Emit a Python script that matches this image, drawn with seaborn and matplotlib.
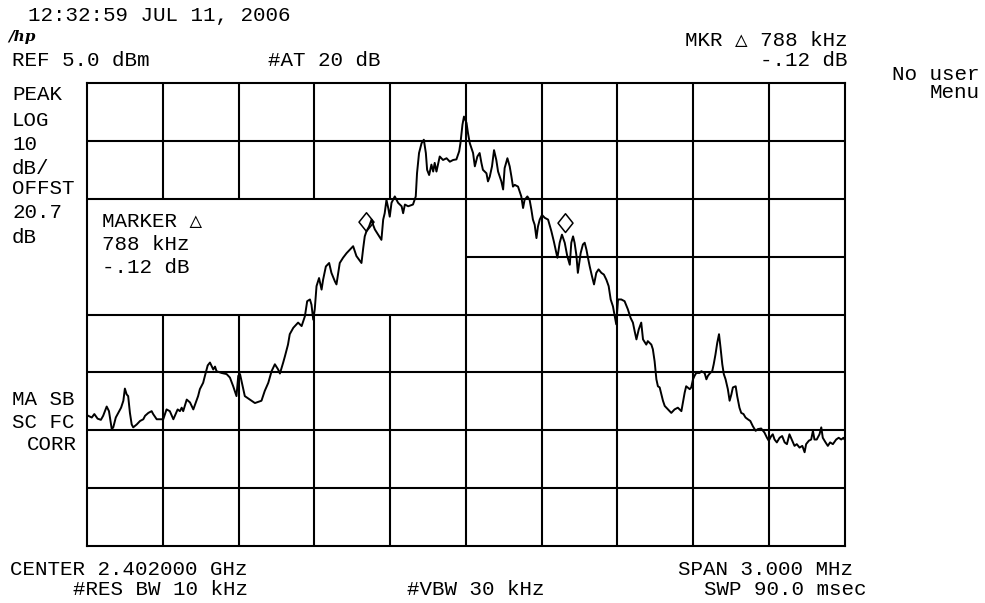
import matplotlib
matplotlib.use("Agg")
import matplotlib.pyplot as plt
import numpy as np
import pandas as pd
import seaborn as sns
from matplotlib.path import Path

# Trace: frequency offset from center (kHz) and level (dBm)
freq_khz = [
    -1500, -1481, -1471, -1458, -1445, -1436, -1422, -1413, -1402, -1396,
    -1386, -1376, -1365, -1356, -1350, -1343, -1337, -1330, -1323, -1317,
    -1303, -1290, -1277, -1270, -1257, -1244, -1238, -1224, -1211, -1198,
    -1185, -1172, -1158, -1141, -1132, -1125, -1119, -1105, -1092, -1079,
    -1060, -1053, -1040, -1033, -1022, -1013, -1000, -993, -987, -967,
    -947, -934, -921, -908, -901, -894, -881, -875, -848, -835,
    -809, -796, -782, -769, -756, -743, -736, -723, -716, -704,
    -697, -683, -664, -650, -637, -628, -617, -611, -604, -598,
    -591, -581, -571, -565, -554, -541, -532, -518, -512, -499,
    -486, -472, -459, -446, -433, -413, -406, -400, -393, -383,
    -373, -367, -360, -347, -334, -327, -321, -314, -307, -301,
    -294, -281, -268, -254, -248, -241, -228, -209, -198, -193,
    -185, -175, -166, -158, -153, -145, -136, -129, -123, -116,
    -103, -90, -76, -63, -50, -37, -26, -21, -13, -7,
    3, 9, 16, 29, 36, 46, 55, 62, 68, 82,
    88, 95, 104, 112, 121, 128, 135, 141, 148, 154,
    165, 174, 181, 187, 194, 207, 220, 227, 233, 244,
    253, 260, 266, 273, 280, 286, 293, 302, 313, 326,
    339, 349, 356, 363, 372, 381, 392, 402, 412, 418,
    425, 431, 438, 444, 455, 464, 471, 478, 484, 491,
    500, 508, 517, 526, 537, 547, 557, 566, 574, 583,
    590, 596, 603, 616, 629, 642, 653, 662, 669, 676,
    685, 695, 702, 715, 721, 735, 741, 748, 755, 761,
    768, 775, 781, 788, 801, 814, 827, 840, 854, 860,
    867, 873, 887, 893, 900, 906, 913, 926, 933, 946,
    953, 959, 968, 976, 982, 989, 996, 1003, 1009, 1016,
    1022, 1029, 1038, 1045, 1052, 1058, 1069, 1075, 1084, 1091,
    1100, 1108, 1117, 1127, 1137, 1148, 1157, 1170, 1183, 1193,
    1200, 1210, 1216, 1223, 1232, 1243, 1253, 1263, 1272, 1282,
    1293, 1302, 1311, 1322, 1333, 1342, 1348, 1359, 1368, 1375,
    1381, 1390, 1401, 1408, 1414, 1425, 1434, 1443, 1454, 1467,
    1477, 1487, 1496, 1500,
]
level_dbm = [
    -52.4, -52.8, -52.2, -53.0, -53.2, -52.5, -50.9, -51.7, -54.8, -54.5,
    -52.8, -52.0, -51.1, -49.9, -47.8, -48.8, -49.1, -52.0, -54.0, -54.5,
    -54.0, -53.4, -53.1, -52.5, -52.0, -51.7, -52.2, -53.1, -53.1, -53.1,
    -51.4, -51.7, -53.1, -51.4, -51.7, -51.1, -51.7, -49.7, -50.2, -51.4,
    -49.1, -47.9, -46.8, -45.6, -43.8, -43.3, -44.5, -44.0, -44.8, -45.1,
    -45.3, -45.9, -47.4, -49.1, -45.6, -45.3, -47.9, -49.1, -49.9, -50.3,
    -49.9, -48.2, -46.8, -44.8, -43.6, -44.5, -45.2, -43.3, -42.2, -40.2,
    -38.4, -37.3, -36.4, -37.0, -35.3, -32.7, -32.4, -33.3, -35.9, -34.1,
    -30.1, -28.7, -30.7, -29.0, -26.7, -26.1, -27.8, -29.3, -29.8, -26.1,
    -25.2, -24.4, -23.8, -23.2, -24.9, -26.1, -23.5, -21.5, -20.6, -19.8,
    -18.6, -19.5, -20.3, -21.2, -22.1, -18.6, -17.5, -15.2, -16.6, -18.1,
    -15.7, -14.6, -15.7, -16.3, -17.5, -16.0, -16.3, -16.0, -14.6, -10.6,
    -7.1, -5.4, -4.8, -7.1, -10.0, -10.9, -9.1, -10.3, -8.8, -10.3,
    -7.7, -8.3, -8.0, -8.6, -8.3, -8.2, -6.8, -5.4, -2.2, -0.8,
    -1.9, -3.7, -5.4, -7.1, -9.4, -7.7, -7.1, -8.8, -10.0, -10.6,
    -12.0, -11.2, -9.4, -6.6, -8.3, -10.3, -11.2, -12.0, -13.4, -9.7,
    -8.0, -9.4, -11.2, -12.9, -12.6, -12.9, -14.6, -16.6, -15.2, -14.6,
    -15.2, -16.9, -18.6, -19.5, -21.8, -19.8, -18.6, -17.8, -18.3, -18.6,
    -20.6, -22.4, -23.8, -25.2, -22.6, -21.2, -22.6, -24.9, -26.4, -22.6,
    -21.5, -22.6, -24.7, -27.8, -24.4, -22.9, -22.6, -23.8, -25.2, -26.7,
    -28.4, -29.8, -27.8, -27.2, -27.8, -28.1, -29.0, -30.1, -32.4, -33.6,
    -35.3, -36.7, -32.4, -32.4, -32.7, -34.1, -35.6, -36.4, -37.9, -39.3,
    -37.6, -36.4, -39.3, -40.2, -39.6, -40.2, -41.0, -43.1, -46.2, -47.4,
    -47.6, -48.8, -49.9, -50.8, -51.4, -52.0, -51.4, -51.1, -51.7, -50.2,
    -48.5, -47.4, -47.9, -47.6, -46.2, -45.6, -45.1, -45.1, -44.8, -45.1,
    -46.2, -45.6, -45.1, -44.8, -43.6, -41.9, -39.9, -38.4, -40.7, -43.6,
    -45.3, -46.2, -47.9, -49.9, -48.8, -47.6, -47.4, -49.1, -51.1, -52.0,
    -52.2, -52.8, -53.1, -53.4, -54.3, -55.1, -54.8, -54.7, -55.4, -56.3,
    -56.8, -56.0, -55.7, -56.6, -57.1, -56.3, -56.0, -57.1, -57.4, -55.7,
    -56.8, -57.7, -57.4, -58.0, -57.7, -58.8, -57.4, -56.8, -56.6, -55.1,
    -56.6, -56.6, -55.7, -54.5, -56.3, -57.1, -57.7, -57.1, -57.4, -56.6,
    -56.3, -56.6, -56.3, -56.6,
]

# Display settings
ref_level_dbm = 5.0
db_per_div = 10
n_vdiv = 8
span_khz = 3000
n_hdiv = 10

# Delta marker pair
marker_ref_khz = -396
marker_delta_khz = 788
marker_ref_dbm = -20.6
marker_delta_db = -0.12

sns.set_theme(style="white")
plt.rcParams["font.family"] = ["Liberation Mono", "DejaVu Sans Mono", "DejaVu Sans"]

W, H = 985, 603
fig = plt.figure(figsize=(W / 100, H / 100), dpi=100)
fig.patch.set_facecolor("white")
left, right, top, bottom = 87, 844.5, 83, 546
ax = fig.add_axes([left / W, 1 - bottom / H, (right - left) / W, (bottom - top) / H])
ax.set_facecolor("white")

x_lo, x_hi = -span_khz / 2, span_khz / 2
y_hi = ref_level_dbm
y_lo = ref_level_dbm - db_per_div * n_vdiv
ax.set_xlim(x_lo, x_hi)
ax.set_ylim(y_lo, y_hi)

# Graticule, with the marker readout window left open on the upper-left
box_x = (x_lo, 0)
box_y = (y_hi - 4 * db_per_div, y_hi - 2 * db_per_div)
grid_kw = dict(color="black", lw=1.5, zorder=1)
for xv in np.linspace(x_lo, x_hi, n_hdiv + 1)[1:-1]:
    if box_x[0] < xv < box_x[1]:
        ax.vlines(xv, y_lo, box_y[0], **grid_kw)
        ax.vlines(xv, box_y[1], y_hi, **grid_kw)
    else:
        ax.vlines(xv, y_lo, y_hi, **grid_kw)
for yv in np.linspace(y_lo, y_hi, n_vdiv + 1)[1:-1]:
    if box_y[0] < yv < box_y[1]:
        ax.hlines(yv, box_x[1], x_hi, **grid_kw)
    else:
        ax.hlines(yv, x_lo, x_hi, **grid_kw)

for s in ax.spines.values():
    s.set_color("black")
    s.set_linewidth(1.5)
ax.set_xticks([])
ax.set_yticks([])

trace = pd.DataFrame({"freq": freq_khz, "level": level_dbm})
sns.lineplot(data=trace, x="freq", y="level", color="black", lw=1.4,
             sort=False, estimator=None, ax=ax, zorder=3)
ax.set_xlabel("")
ax.set_ylabel("")

# Diamond markers resting on the trace
diamond = Path([(0, 0), (-0.8, 1), (0, 2), (0.8, 1), (0, 0)],
               [Path.MOVETO, Path.LINETO, Path.LINETO, Path.LINETO, Path.CLOSEPOLY])
mk_x = [marker_ref_khz, marker_ref_khz + marker_delta_khz]
mk_y = [marker_ref_dbm, marker_ref_dbm + marker_delta_db]
ax.plot(mk_x, mk_y, ls="none", marker=diamond, markersize=27,
        markerfacecolor="none", markeredgecolor="black", markeredgewidth=1.1, zorder=4)

FS = 15
def label(x, y, s, ha="left", size=FS, **kw):
    fig.text(x / W, 1 - y / H, s, ha=ha, va="baseline", fontsize=size, color="black", **kw)

def delta_db_text(v):
    return f"{v:.2f} dB".replace("0.", ".")

label(28, 21, "12:32:59 JUL 11, 2006")
fig.text(8 / W, 1 - 41 / H, "/hp", fontsize=11, style="italic", weight="bold",
         family="DejaVu Serif", color="black", va="baseline")
label(12, 66, "REF 5.0 dBm")
label(268, 66, "#AT 20 dB")
label(848, 46, f"MKR \u25b3 {marker_delta_khz} kHz", ha="right")
label(848, 66, delta_db_text(marker_delta_db), ha="right")
fig.text(980 / W, 1 - 98 / H, "No user\nMenu", ha="right", va="baseline",
         multialignment="right", linespacing=0.95, fontsize=FS, color="black")

for yb, s in [(100, "PEAK"), (126, "LOG"), (150, f"{db_per_div}"), (174, "dB/"),
              (194, "OFFST"), (218, "20.7"), (243, "dB")]:
    label(12, yb, s)

label(102, 227, "MARKER \u25b3")
label(102, 250, f"{marker_delta_khz} kHz")
label(102, 273, delta_db_text(marker_delta_db))

label(12, 405, "MA SB")
label(12, 428, "SC FC")
label(27, 450, "CORR")

label(10, 575, "CENTER 2.402000 GHz")
label(853, 575, f"SPAN {span_khz / 1000:.3f} MHz", ha="right")
label(73, 595, "#RES BW 10 kHz")
label(476, 595, "#VBW 30 kHz", ha="center")
label(866, 595, "SWP 90.0 msec", ha="right")

fig.savefig("out.png", dpi=100, facecolor="white")
